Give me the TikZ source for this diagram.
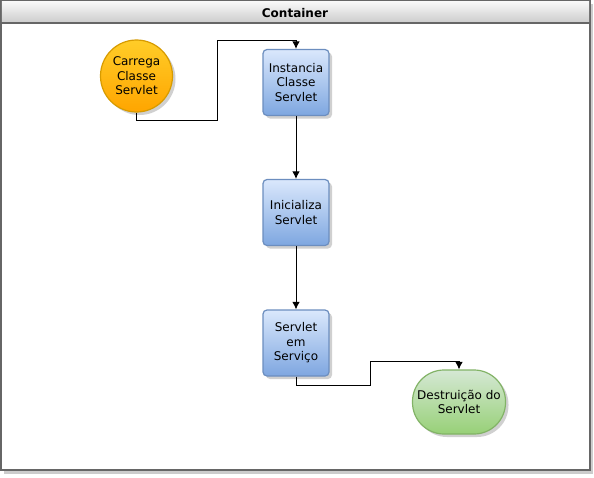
\documentclass[tikz,border=0pt]{standalone}
\usepackage{fontspec}
\setmainfont{DejaVu Sans}
\usetikzlibrary{shadows,arrows.meta}
\definecolor{bluetop}{HTML}{DAE8FC}
\definecolor{bluebot}{HTML}{7EA6E0}
\definecolor{blueline}{HTML}{6C8EBF}
\definecolor{orangetop}{HTML}{FFCD28}
\definecolor{orangebot}{HTML}{FFA500}
\definecolor{orangeline}{HTML}{D79B00}
\definecolor{greentop}{HTML}{D5E8D4}
\definecolor{greenbot}{HTML}{97D077}
\definecolor{greenline}{HTML}{82B366}
\begin{document}
\begin{tikzpicture}[
        x=1pt, y=-1pt,
        font=\fontsize{12}{14.5}\selectfont,
        schatten/.style={drop shadow={shadow xshift=3pt, shadow yshift=-3pt, fill=black!30, opacity=0.6}},
        schritt/.style={rectangle, rounded corners=4pt, draw=blueline, line width=1.2pt, top color=bluetop, bottom color=bluebot,
                        minimum width=66pt, minimum height=66pt, align=center, schatten},
        start/.style={circle, draw=orangeline, line width=1.2pt, top color=orangetop, bottom color=orangebot,
                      minimum size=72pt, inner sep=0pt, align=center, schatten},
        ende/.style={rectangle, rounded corners=31.5pt, draw=greenline, line width=1.2pt, top color=greentop, bottom color=greenbot,
                     minimum width=93pt, minimum height=64pt, inner sep=0pt, align=center, schatten},
        conn/.style={line width=1pt, -{Latex[length=7.5pt,width=7.5pt]}}
    ]
    \useasboundingbox (0, 0) rectangle (594, 477);

    % Rahmen
    \fill[black!20] (4, 4) rectangle (593, 474);
    \draw[black!60, line width=1.5pt, fill=white] (1, 1) rectangle (590, 470);
    \shade[top color=black!3, bottom color=black!20] (1.8, 1.8) rectangle (589.2, 23);
    \draw[black!60, line width=1.5pt] (1, 23) -- (590, 23);
    \node[font=\fontsize{12}{14.5}\selectfont\bfseries] (titel) at (295, 13) {Container};

    % Knoten
    \node[start] (carrega) at (136.5, 76) {Carrega\\Classe\\Servlet};
    \node[schritt] (instancia) at (296, 82.5) {Instancia\\Classe\\Servlet};
    \node[schritt] (inicializa) at (296, 212.5) {Inicializa\\Servlet};
    \node[schritt] (servico) at (296, 343) {Servlet\\em\\Serviço};
    \node[ende] (destruicao) at (459, 402) {Destruição do\\Servlet};

    % Verbindungen
    \draw[conn] (carrega.south) -- ++(0, 8) -| (217, 40) -| (instancia.north);
    \draw[conn] (instancia) -- (inicializa);
    \draw[conn] (inicializa) -- (servico);
    \draw[conn] (servico.south) -- ++(0, 9) -| (370, 361) -| (destruicao.north);
\end{tikzpicture}
\end{document}
